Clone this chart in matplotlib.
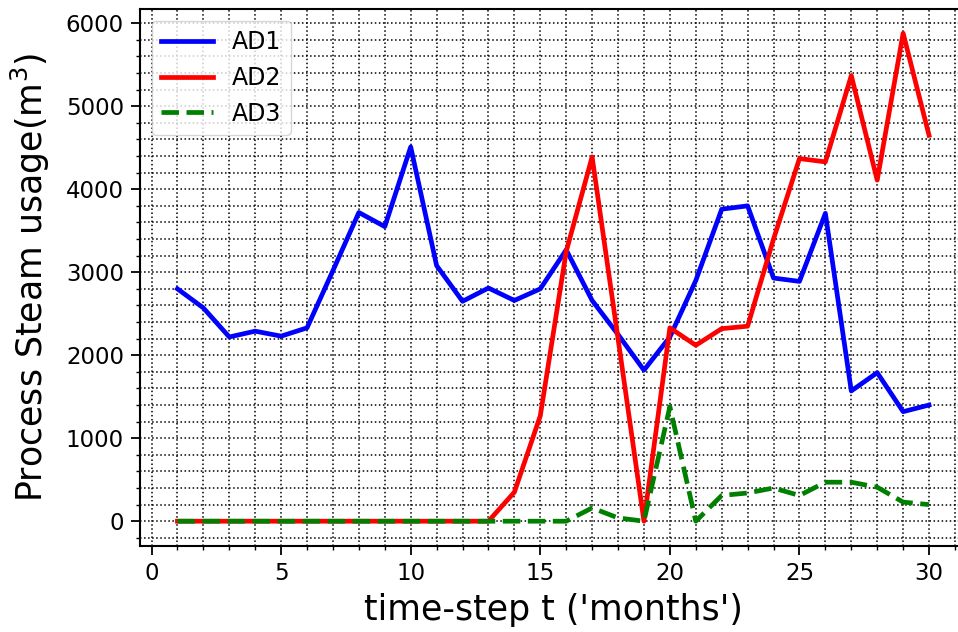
import numpy as np
import matplotlib.pyplot as plt
from matplotlib.ticker import MultipleLocator

months = np.arange(1, 31)

ad1 = [2800, 2570, 2220, 2290, 2230, 2330, 3020, 3720, 3550, 4510,
       3080, 2650, 2810, 2660, 2800, 3270, 2660, 2250, 1820, 2220,
       2900, 3760, 3800, 2930, 2890, 3710, 1570, 1790, 1320, 1400]
ad2 = [0, 0, 0, 0, 0, 0, 0, 0, 0, 0,
       0, 0, 0, 350, 1270, 3250, 4390, 2200, 0, 2330,
       2120, 2320, 2350, 3400, 4370, 4330, 5370, 4110, 5880, 4650]
ad3 = [0, 0, 0, 0, 0, 0, 0, 0, 0, 0,
       0, 0, 0, 0, 0, 0, 160, 40, 0, 1380,
       0, 310, 340, 400, 310, 470, 470, 410, 230, 200]

fig = plt.figure(figsize=(9.58, 6.32), dpi=100)
ax = fig.add_axes([0.146, 0.1367, 0.863, 0.8493])

ax.plot(months, ad1, '-', color='blue', lw=3.4, label='AD1')
ax.plot(months, ad2, '-', color='red', lw=3.4, label='AD2')
ax.plot(months, ad3, '--', color='green', lw=3.4, label='AD3')

ax.xaxis.set_major_locator(MultipleLocator(5))
ax.xaxis.set_minor_locator(MultipleLocator(1))
ax.yaxis.set_major_locator(MultipleLocator(1000))
ax.yaxis.set_minor_locator(MultipleLocator(200))
ax.grid(which='both', linestyle=':', color='black', linewidth=1.1)

ax.tick_params(which='major', labelsize=16.5, length=6.5, width=1.3, pad=5)
ax.tick_params(which='minor', length=3, width=1.0)
for s in ax.spines.values():
    s.set_linewidth(1.5)

ax.set_xlabel("time-step t ('months')", fontsize=25, labelpad=6)
ax.set_ylabel('Process Steam usage(m$^{3}$)', fontsize=25, labelpad=10)
ax.legend(loc='upper left', fontsize=17, handlelength=2.2)

plt.savefig('out.png', dpi=100)
